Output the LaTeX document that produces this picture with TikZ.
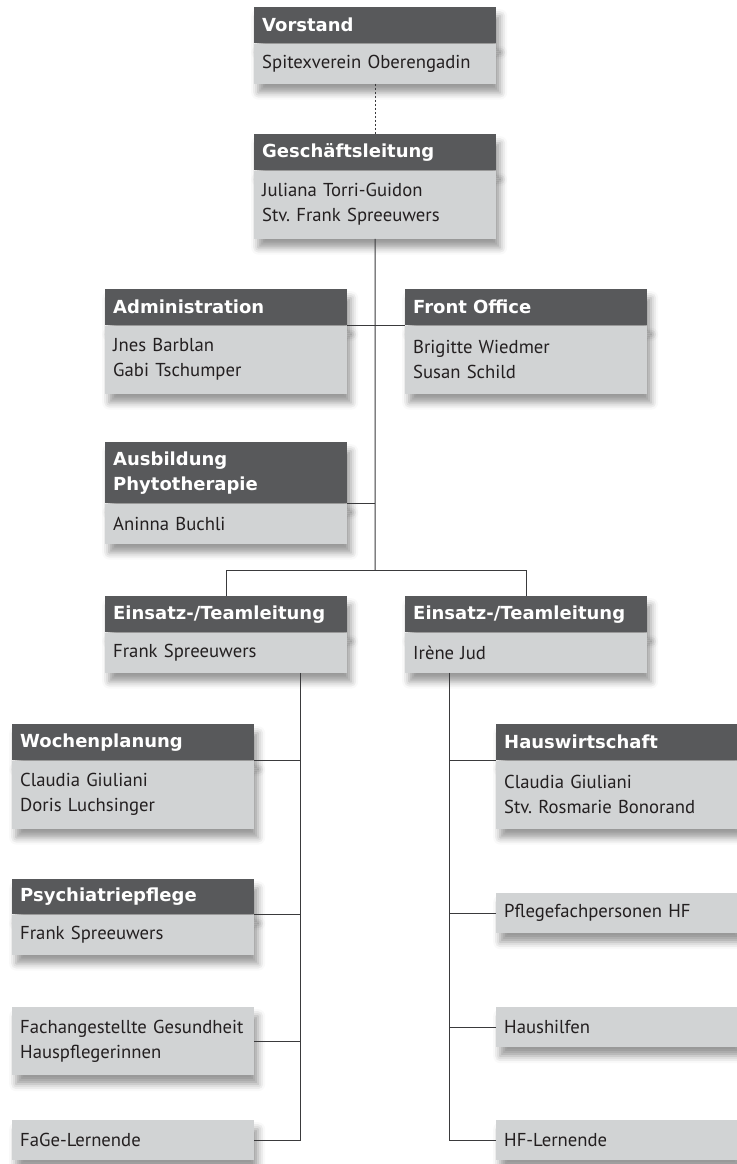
\documentclass[tikz,border=0pt]{standalone}
\usepackage{fontspec}
\setmainfont{PT Sans}
\newfontfamily\hdfont{DejaVu Sans}
\usepackage{tikz}
\usetikzlibrary{shadows.blur}
\definecolor{hdgray}{HTML}{58595B}
\definecolor{bdgray}{HTML}{D1D3D4}
\definecolor{txtgray}{HTML}{231F20}
\definecolor{linegray}{HTML}{3A3A3C}
\frenchspacing
\tikzset{
  box/.style={rectangle, anchor=north west, text width=226pt, inner xsep=8pt, inner ysep=0pt, align=left,
    blur shadow={shadow xshift=4pt, shadow yshift=-9pt, shadow blur radius=7pt, shadow opacity=40}},
  head/.style={box, fill=hdgray, text=white, minimum height=36pt, font=\hdfont\bfseries\fontsize{18}{25}\selectfont},
  body/.style={box, fill=bdgray, text=txtgray, minimum height=40pt, font=\fontsize{18.7}{25}\selectfont},
  tall/.style={minimum height=68pt},
  link/.style={draw=linegray, line width=1pt}
}

\begin{document}
\begin{tikzpicture}[x=1pt, y=-1pt]
\useasboundingbox (0,0) rectangle (736,1164);
\coordinate (mid) at (375,570);
\coordinate (lsp) at (300,0);
\coordinate (rsp) at (449,0);

\node[head] (vorH) at (254,7) {Vorstand};
\node[body] (vorB) at (vorH.south west) {Spitexverein Oberengadin};

\node[head] (gfH) at (254,134) {Geschäftsleitung};
\node[body, tall] (gfB) at (gfH.south west) {Juliana Torri-Guidon\\Stv. Frank Spreeuwers};

\node[head] (admH) at (105,289) {Administration};
\node[body, tall] (admB) at (admH.south west) {Jnes Barblan\\Gabi Tschumper};
\node[head] (froH) at (405,289) {Front Office};
\node[body, tall] (froB) at (froH.south west) {Brigitte Wiedmer\\Susan Schild};

\node[head, minimum height=61pt] (ausH) at (105,442) {Ausbildung\\Phytotherapie};
\node[body] (ausB) at (ausH.south west) {Aninna Buchli};

\node[head] (einLH) at (105,596) {Einsatz-/Teamleitung};
\node[body] (einLB) at (einLH.south west) {Frank Spreeuwers};
\node[head] (einRH) at (405,596) {Einsatz-/Teamleitung};
\node[body] (einRB) at (einRH.south west) {Irène Jud};

\node[head] (wocH) at (12,724) {Wochenplanung};
\node[body, tall] (wocB) at (wocH.south west) {Claudia Giuliani\\Doris Luchsinger};
\node[head, minimum height=35pt] (psyH) at (12,879) {Psychiatriepflege};
\node[body] (psyB) at (psyH.south west) {Frank Spreeuwers};
\node[body, tall] (fagB) at (12,1007) {Fachangestellte Gesundheit\\Hauspflegerinnen};
\node[body] (felB) at (12,1120) {FaGe-Lernende};

\node[head] (hauH) at (496,724) {Hauswirtschaft};
\node[body, tall] (hauB) at (hauH.south west) {Claudia Giuliani\\Stv. Rosmarie Bonorand};
\node[body] (pflB) at (496,893) {Pflegefachpersonen HF};
\node[body] (hhiB) at (496,1007) {Haushilfen};
\node[body] (hflB) at (496,1120) {HF-Lernende};

\draw[link, dash pattern=on 2pt off 2pt] (vorB.south) -- (gfH.north);
\draw[link] (gfB.south) -- (mid);
\draw[link] (admH.south east) -- (froH.south west);
\draw[link] (ausH.south east) -- (ausH.south east -| mid);
\draw[link] (einLH.north) |- (einRH.north |- mid) -- (einRH.north);

\draw[link] (einLB.south -| lsp) -- (lsp |- felB.east) -- (felB.east);
\draw[link] (wocH.south east) -- (wocH.south east -| lsp);
\draw[link] (psyH.south east) -- (psyH.south east -| lsp);
\draw[link] (fagB.east) -- (fagB.east -| lsp);

\draw[link] (einRB.south -| rsp) -- (rsp |- hflB.west) -- (hflB.west);
\draw[link] (hauH.south west) -- (hauH.south west -| rsp);
\draw[link] (pflB.west) -- (pflB.west -| rsp);
\draw[link] (hhiB.west) -- (hhiB.west -| rsp);
\end{tikzpicture}
\end{document}
